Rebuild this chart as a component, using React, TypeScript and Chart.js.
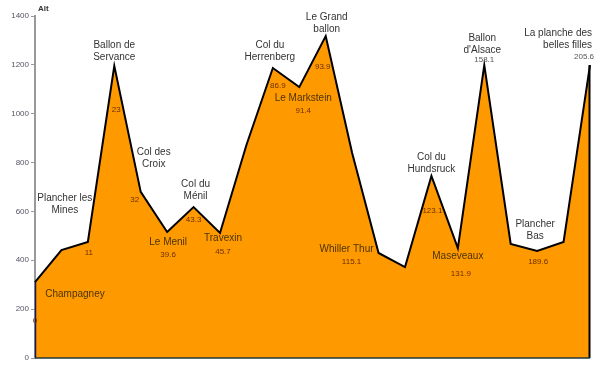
import React, { useEffect, useRef } from "react";
import { Chart, registerables } from "chart.js";

Chart.register(...registerables);

const altitudes = [311, 442, 475, 1196, 680, 516, 618, 512, 872, 1187, 1109, 1318, 839, 430, 372, 745, 450, 1199, 467, 438, 475, 1199];

const placeNames = [
  "Champagney", "", "Plancher les\nMines", "Ballon de\nServance", "Col des\nCroix", "Le Menil",
  "Col du\nMénil", "Travexin", "", "Col du\nHerrenberg", "Le Markstein", "Le Grand\nballon", "",
  "Whiller Thur", "", "Col du\nHundsruck", "Maseveaux", "Ballon\nd'Alsace", "", "Plancher\nBas", "",
  "La planche des\nbelles filles",
];

const kmLabels = ["0", "", "11", "23", "32", "39.6", "43.3", "45.7", "", "86.9", "91.4", "93.9", "", "115.1", "", "123.1", "131.9", "158.1", "", "189.6", "", "205.6"];

const yTicks = [0, 200, 400, 600, 800, 1000, 1200, 1400];

// label placement offsets (px) relative to each point: [nameDx, nameDy, kmDx, kmDy, align]
const placement: Record<number, [number, number, number, number, CanvasTextAlign?]> = {
  0: [40, 12, 0, 39],
  2: [-23, -44, 1, 11],
  3: [0, -21, 2, 44],
  4: [13, -40, -6, 8],
  5: [1, 10, 1, 23],
  6: [2, -23, 0, 13],
  7: [3, 5, 3, 19],
  9: [-3, -23, 5, 18],
  10: [4, 11, 4, 24],
  11: [1, -19, -3, 31],
  13: [-32, -4, -27, 9],
  15: [0, -19, 1, 35],
  16: [0, 8, 3, 26],
  17: [-2, -27, 0, -5],
  19: [-2, -27, 1, 11],
  21: [2, -32, 4, -8, "right"],
};

const FONT = "'Liberation Sans', Arial, sans-serif";

const labelPlugin = {
  id: "profileLabels",
  afterDatasetsDraw(chart: any) {
    const ctx = chart.ctx as CanvasRenderingContext2D;
    const meta = chart.getDatasetMeta(0);
    const pts = meta.data as any[];
    const area = chart.chartArea;
    const base = chart.scales.y.getPixelForValue(0);
    ctx.save();
    ctx.lineWidth = 1.5;
    ctx.strokeStyle = "#1a1a50";
    ctx.beginPath();
    ctx.moveTo(pts[0].x + 0.5, pts[0].y);
    ctx.lineTo(pts[0].x + 0.5, base);
    ctx.stroke();
    ctx.lineWidth = 2;
    ctx.strokeStyle = "#000";
    const last = pts[pts.length - 1];
    ctx.beginPath();
    ctx.moveTo(last.x - 0.5, last.y);
    ctx.lineTo(last.x - 0.5, base);
    ctx.stroke();
    ctx.lineWidth = 1.5;
    ctx.strokeStyle = "#1f3a3a";
    ctx.beginPath();
    ctx.moveTo(area.left, base);
    ctx.lineTo(last.x, base);
    ctx.stroke();

    const lineY = (x: number) => {
      for (let i = 0; i < pts.length - 1; i++) {
        if (x >= pts[i].x && x <= pts[i + 1].x) {
          const t = (x - pts[i].x) / (pts[i + 1].x - pts[i].x);
          return pts[i].y + t * (pts[i + 1].y - pts[i].y);
        }
      }
      return x < pts[0].x ? pts[0].y : last.y;
    };

    ctx.textBaseline = "middle";
    Object.keys(placement).forEach((k) => {
      const i = Number(k);
      const [ndx, ndy, kdx, kdy, align] = placement[i];
      const p = pts[i];
      ctx.textAlign = align || "center";
      const name = placeNames[i];
      if (name) {
        ctx.font = `10px ${FONT}`;
        name.split("\n").forEach((ln, j) => {
          const x = p.x + ndx;
          const y = p.y + ndy + j * 12.5;
          const onFill = y > lineY(x) + 2;
          ctx.fillStyle = onFill ? "#4a3400" : "#333333";
          ctx.fillText(ln, x, y);
        });
      }
      const km = kmLabels[i];
      if (km) {
        ctx.font = `8px ${FONT}`;
        const x = p.x + kdx;
        const y = p.y + kdy;
        const onFill = y > lineY(x);
        ctx.fillStyle = onFill ? "#6b3000" : "#555555";
        ctx.fillText(km, x, y);
      }
    });

    ctx.textAlign = "left";
    ctx.font = `bold 8px ${FONT}`;
    ctx.fillStyle = "#333";
    ctx.fillText("Alt", 38, 9);
    ctx.restore();
  },
};

export default function App() {
  const ref = useRef<HTMLCanvasElement>(null);
  useEffect(() => {
    if (!ref.current) return;
    const chart = new Chart(ref.current, {
      type: "line",
      data: {
        labels: placeNames.map((n, i) => n || String(i)),
        datasets: [
          {
            data: altitudes,
            fill: "origin",
            backgroundColor: "#FF9900",
            borderColor: "#000000",
            borderWidth: 2,
            borderJoinStyle: "miter",
            pointRadius: 0,
            tension: 0,
          },
        ],
      },
      options: {
        animation: false,
        responsive: false,
        maintainAspectRatio: false,
        layout: { padding: { top: 16, right: 10, bottom: 17, left: 0 } },
        plugins: { legend: { display: false }, tooltip: { enabled: false } },
        scales: {
          x: { display: false, offset: false },
          y: {
            min: 0,
            max: 1400,
            afterBuildTicks: (s: any) => {
              s.ticks = yTicks.map((v) => ({ value: v }));
            },
            afterFit: (s: any) => {
              s.width = 35;
            },
            ticks: {
              font: { size: 8, family: FONT },
              color: "#555566",
              padding: 2,
              callback: (v: any) => String(v),
            },
            grid: { drawOnChartArea: false, drawTicks: true, tickLength: 4, color: "#999999" },
            border: { color: "#999999", width: 2 },
          },
        },
      },
      plugins: [labelPlugin],
    });
    return () => chart.destroy();
  }, []);
  return (
    <div style={{ position: "fixed", left: 0, top: 0, width: 600, height: 375, background: "#fff" }}>
      <canvas ref={ref} width={600} height={375} />
    </div>
  );
}
